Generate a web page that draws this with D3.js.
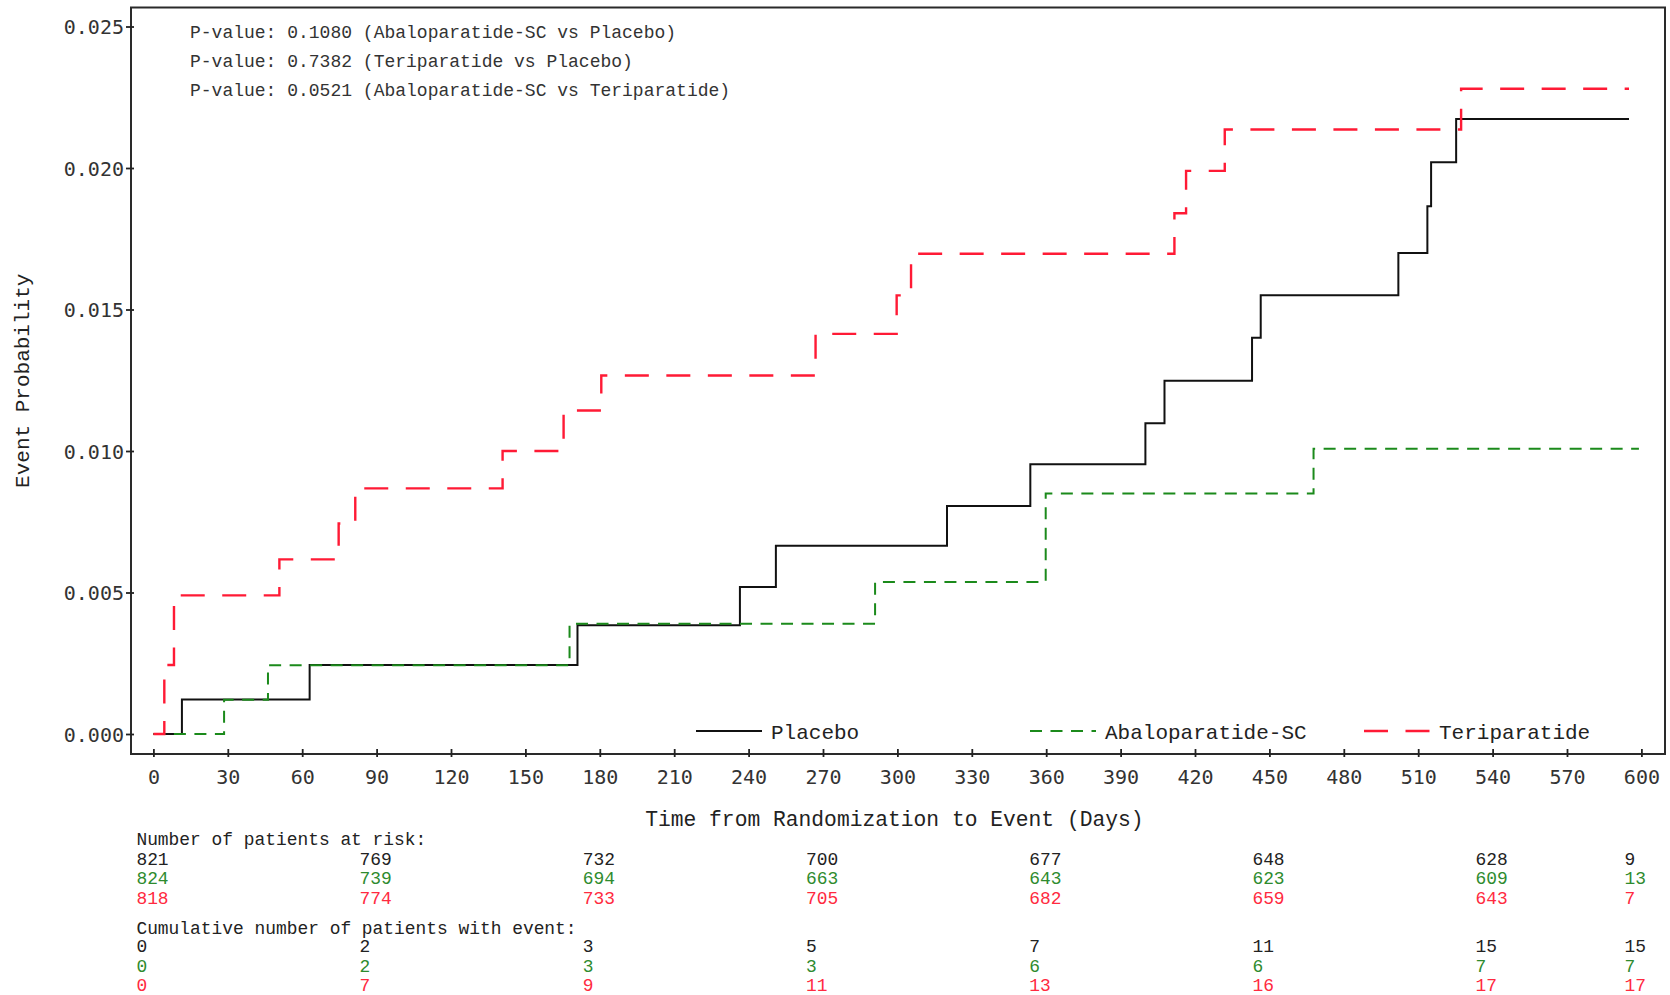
<!DOCTYPE html>
<html>
<head>
<meta charset="utf-8">
<script src="https://cdn.jsdelivr.net/npm/d3@7"></script>
<style>
  html, body { margin: 0; padding: 0; background: #fff; }
  svg { display: block; }
</style>
</head>
<body>
<svg id="chart" width="1670" height="995"></svg>
<script>
// ---------------- DATA ----------------
const seriesNames = ["Placebo", "Abaloparatide-SC", "Teriparatide"];

const placeboDays = [0, 11.5, 63, 171, 236.5, 251, 320, 353.6, 400, 407.7, 443, 446.5, 502, 513.7, 515.2, 525.3, 595];
const placeboProb = [0, 0.00122, 0.00244, 0.00384, 0.00519, 0.00665, 0.00806, 0.00953, 0.01098, 0.01248, 0.0140, 0.0155, 0.0170, 0.01865, 0.0202, 0.02173, 0.02173];

const abaloDays = [0, 28.5, 46.2, 167.8, 291, 359.8, 467.8, 599];
const abaloProb = [0, 0.00121, 0.00243, 0.0039, 0.00537, 0.0085, 0.01008, 0.01008];

const teriDays = [0, 4.4, 8.3, 50.8, 74.7, 81.4, 140.8, 165.4, 180.6, 267, 299.7, 305.5, 411.7, 416.4, 432, 527.3, 595];
const teriProb = [0, 0.00244, 0.0049, 0.00617, 0.00744, 0.00868, 0.0100, 0.01143, 0.01267, 0.01414, 0.0155, 0.01697, 0.0184, 0.0199, 0.02136, 0.0228, 0.0228];

const xTicks = [0, 30, 60, 90, 120, 150, 180, 210, 240, 270, 300, 330, 360, 390, 420, 450, 480, 510, 540, 570, 600];
const yTicks = [0, 0.005, 0.010, 0.015, 0.020, 0.025];

const pValueLines = [
  "P-value: 0.1080 (Abaloparatide-SC vs Placebo)",
  "P-value: 0.7382 (Teriparatide vs Placebo)",
  "P-value: 0.0521 (Abaloparatide-SC vs Teriparatide)"
];

const tableDays = [0, 90, 180, 270, 360, 450, 540, 600];
const atRiskPlacebo = [821, 769, 732, 700, 677, 648, 628, 9];
const atRiskAbalo = [824, 739, 694, 663, 643, 623, 609, 13];
const atRiskTeri = [818, 774, 733, 705, 682, 659, 643, 7];
const cumPlacebo = [0, 2, 3, 5, 7, 11, 15, 15];
const cumAbalo = [0, 2, 3, 3, 6, 6, 7, 7];
const cumTeri = [0, 7, 9, 11, 13, 16, 17, 17];

const xTitle = "Time from Randomization to Event (Days)";
const yTitle = "Event Probability";
const atRiskTitle = "Number of patients at risk:";
const cumTitle = "Cumulative number of patients with event:";

// ---------------- STYLE ----------------
const colors = { "Placebo": "#111111", "Abaloparatide-SC": "#1b8a1b", "Teriparatide": "#ff1a35" };
const textColors = { "Placebo": "#222222", "Abaloparatide-SC": "#2e8b2e", "Teriparatide": "#ff2a40" };
const dashes = { "Placebo": null, "Abaloparatide-SC": "12,8.5", "Teriparatide": "24,17.5" };
const widths = { "Placebo": 2, "Abaloparatide-SC": 2, "Teriparatide": 2.4 };

const monoSerif = "'Liberation Mono', 'Courier New', monospace";
const monoSans = "'DejaVu Sans Mono', monospace";

// ---------------- LAYOUT ----------------
const frame = { left: 131, top: 7.5, right: 1665, bottom: 754 };
const x = d3.scaleLinear().domain([0, 600]).range([153.4, 1641.4]);
const y = d3.scaleLinear().domain([0, 0.025]).range([734, 26.5]);

const svg = d3.select("#chart");

// curves
const series = [
  { name: "Placebo", days: placeboDays, prob: placeboProb },
  { name: "Abaloparatide-SC", days: abaloDays, prob: abaloProb },
  { name: "Teriparatide", days: teriDays, prob: teriProb }
];

const line = d3.line()
  .x(d => x(d[0]))
  .y(d => y(d[1]))
  .curve(d3.curveStepAfter);

svg.append("g").selectAll("path")
  .data(series)
  .join("path")
  .attr("d", s => line(s.days.map((d, i) => [d, s.prob[i]])))
  .attr("fill", "none")
  .attr("stroke", s => colors[s.name])
  .attr("stroke-width", s => widths[s.name])
  .attr("stroke-dasharray", s => dashes[s.name]);

// frame
svg.append("rect")
  .attr("x", frame.left).attr("y", frame.top)
  .attr("width", frame.right - frame.left)
  .attr("height", frame.bottom - frame.top)
  .attr("fill", "none")
  .attr("stroke", "#2a2a2a")
  .attr("stroke-width", 2);

// x axis
const xAxis = svg.append("g")
  .attr("transform", `translate(0,${frame.bottom})`)
  .call(d3.axisBottom(x).tickValues(xTicks).tickSize(3).tickSizeOuter(0).tickPadding(0));
xAxis.select(".domain").remove();
xAxis.selectAll(".tick line").attr("y1", -5).attr("y2", 3).attr("stroke", "#222").attr("stroke-width", 1.8);
xAxis.selectAll(".tick text")
  .attr("y", 30).attr("dy", null)
  .attr("font-family", monoSans).attr("font-size", 20).attr("fill", "#333");

// y axis
const yAxis = svg.append("g")
  .attr("transform", `translate(${frame.left},0)`)
  .call(d3.axisLeft(y).tickValues(yTicks).tickFormat(d3.format(".3f")).tickSizeOuter(0));
yAxis.select(".domain").remove();
yAxis.selectAll(".tick line").attr("x1", -5).attr("x2", 3).attr("stroke", "#222").attr("stroke-width", 1.8);
yAxis.selectAll(".tick text")
  .attr("x", -7).attr("dy", "0.36em")
  .attr("font-family", monoSans).attr("font-size", 20).attr("fill", "#333");

// axis titles
svg.append("text")
  .attr("x", x(300) - 3).attr("y", 826)
  .attr("text-anchor", "middle")
  .attr("font-family", monoSerif).attr("font-size", 21.3).attr("fill", "#222")
  .text(xTitle);

svg.append("text")
  .attr("transform", `translate(29,${(frame.top + frame.bottom) / 2}) rotate(-90)`)
  .attr("text-anchor", "middle")
  .attr("font-family", monoSerif).attr("font-size", 21).attr("fill", "#222")
  .text(yTitle);

// p-values
svg.append("g").selectAll("text")
  .data(pValueLines)
  .join("text")
  .attr("x", 190).attr("y", (d, i) => 38 + i * 28.8)
  .attr("font-family", monoSerif).attr("font-size", 18).attr("fill", "#333")
  .text(d => d);

// legend
const legendX = [696, 1030, 1364];
const legend = svg.append("g").selectAll("g")
  .data(series)
  .join("g")
  .attr("transform", (s, i) => `translate(${legendX[i]},731)`);
legend.append("line")
  .attr("x1", 0).attr("x2", 66).attr("y1", 0).attr("y2", 0)
  .attr("stroke", s => colors[s.name])
  .attr("stroke-width", s => widths[s.name])
  .attr("stroke-dasharray", s => dashes[s.name]);
legend.append("text")
  .attr("x", 75).attr("y", 8)
  .attr("font-family", monoSerif).attr("font-size", 21).attr("fill", "#222")
  .text(s => s.name);

// at-risk table
const tableFont = 17.9;
const tx = d => x(d) - 17;
svg.append("text").attr("x", tx(0)).attr("y", 845)
  .attr("font-family", monoSerif).attr("font-size", tableFont).attr("fill", "#222")
  .text(atRiskTitle);
svg.append("text").attr("x", tx(0)).attr("y", 934)
  .attr("font-family", monoSerif).attr("font-size", tableFont).attr("fill", "#222")
  .text(cumTitle);

const rows = [
  { vals: atRiskPlacebo, name: "Placebo", y: 864.5 },
  { vals: atRiskAbalo, name: "Abaloparatide-SC", y: 884 },
  { vals: atRiskTeri, name: "Teriparatide", y: 903.5 },
  { vals: cumPlacebo, name: "Placebo", y: 952 },
  { vals: cumAbalo, name: "Abaloparatide-SC", y: 971.5 },
  { vals: cumTeri, name: "Teriparatide", y: 991 }
];
rows.forEach(r => {
  svg.append("g").selectAll("text")
    .data(r.vals)
    .join("text")
    .attr("x", (v, i) => tx(tableDays[i]))
    .attr("y", r.y)
    .attr("font-family", monoSerif).attr("font-size", tableFont)
    .attr("fill", textColors[r.name])
    .text(v => v);
});
</script>
</body>
</html>
